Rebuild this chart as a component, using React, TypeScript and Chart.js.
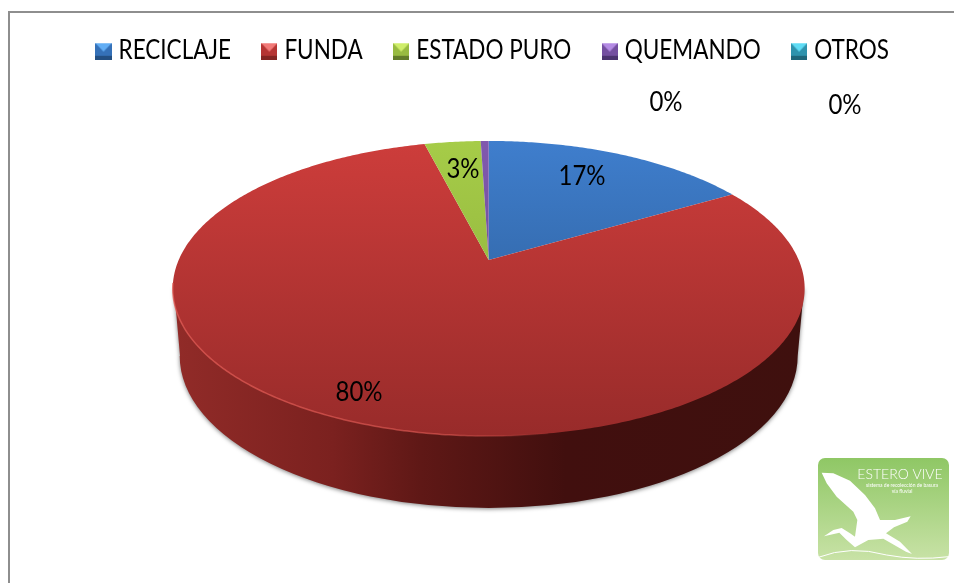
import React, { useEffect, useRef } from "react";
import { Chart, registerables } from "chart.js";

Chart.register(...registerables);

const categories = ["RECICLAJE", "FUNDA", "ESTADO PURO", "QUEMANDO", "OTROS"];
const shares = [16.55, 79.5, 3.46, 0.49, 0];
const baseColors = ["#3571b8", "#b53534", "#98bb41", "#744fa0", "#2f93ad"];
const faceTop = ["#3f7ecd", "#cd3d3b", "#a6cc48", "#8059ae", "#37a7c4"];
const faceBottom = ["#28558a", "#982b2a", "#86a838", "#64458c", "#267a90"];
const iconLight = ["#62aef5", "#f27a78", "#cfee6a", "#b48be4", "#5fdcf5"];
const iconDark = ["#234f82", "#832523", "#627c2a", "#4b336f", "#1f667a"];
const labelAnchors = [[582, 176], [359, 392], [463, 169], [666, 102], [845, 105]];

const FONT = 'Lato, "Liberation Sans", sans-serif';
const W = 954;
const H = 583;

// projective view of the pie's top face
const CX = 488.7;
const SX = 310;
const PK = -0.1932;
const PA = 91.8;
const PB = 260;
const project = (angle: number): [number, number] => {
  const u = Math.cos(angle);
  const v = Math.sin(angle);
  const d = 1 + PK * v;
  return [CX + (SX * u) / d, (PA * v + PB) / d];
};

// legend text is condensed and slightly tall in the reference
const LEG_SX = 0.9;
const LEG_SY = 1.05;
const LEG_DX = 65;
const LEG_DY = -3;

const makeIcon = (i: number) => {
  const c = document.createElement("canvas");
  c.width = 18;
  c.height = 18;
  const x = c.getContext("2d")!;
  x.fillStyle = baseColors[i];
  x.fillRect(0, 2, 18, 16);
  x.fillStyle = iconLight[i];
  x.beginPath();
  x.moveTo(0, 2);
  x.lineTo(18, 2);
  x.lineTo(9, 10);
  x.closePath();
  x.fill();
  x.fillStyle = iconDark[i];
  x.fillRect(0, 14, 18, 4);
  return c;
};

const pie3dPlugin = {
  id: "pie3d",
  beforeDraw(chart: any) {
    const { ctx } = chart;
    ctx.save();
    ctx.fillStyle = "#ffffff";
    ctx.fillRect(0, 0, W, H);
    ctx.fillStyle = "#8e8e8e";
    ctx.fillRect(8, 11, W - 8, 2);
    ctx.fillRect(8, 11, 2, H - 11);
    ctx.restore();
    const legend = chart.legend;
    if (legend && !legend.__condensed) {
      legend.__condensed = true;
      const drawLegend = legend.draw.bind(legend);
      legend.draw = () => {
        ctx.save();
        ctx.translate(LEG_DX, LEG_DY);
        ctx.scale(LEG_SX, LEG_SY);
        drawLegend();
        ctx.restore();
      };
    }
  },
  beforeDatasetDraw(chart: any, args: any) {
    const { ctx } = chart;
    const arcs = chart.getDatasetMeta(args.index).data;
    // wall of the disc
    ctx.save();
    const wall = ctx.createLinearGradient(175, 0, 805, 0);
    wall.addColorStop(0, "#912b28");
    wall.addColorStop(0.25, "#7b211f");
    wall.addColorStop(0.39, "#5f1816");
    wall.addColorStop(0.62, "#410f0e");
    wall.addColorStop(1, "#3f100e");
    ctx.fillStyle = wall;
    ctx.shadowColor = "rgba(0,0,0,0.5)";
    ctx.shadowBlur = 4;
    ctx.shadowOffsetY = 1;
    ctx.beginPath();
    ctx.moveTo(174, 288);
    ctx.lineTo(180, 356);
    ctx.ellipse(CX, 356, 309, 152, 0, Math.PI, 0, true);
    ctx.lineTo(804, 288);
    ctx.closePath();
    ctx.fill();
    ctx.restore();
    // top face
    arcs.forEach((arc: any, i: number) => {
      const { startAngle, endAngle } = arc.getProps(["startAngle", "endAngle"], true);
      if (endAngle - startAngle <= 0) return;
      const g = ctx.createLinearGradient(0, 141, 0, 436);
      g.addColorStop(0, faceTop[i]);
      g.addColorStop(1, faceBottom[i]);
      ctx.fillStyle = g;
      ctx.beginPath();
      ctx.moveTo(CX, PB);
      const steps = Math.max(4, Math.ceil((endAngle - startAngle) * 90));
      for (let s = 0; s <= steps; s++) {
        const [x, y] = project(startAngle + ((endAngle - startAngle) * s) / steps);
        ctx.lineTo(x, y);
      }
      ctx.closePath();
      ctx.fill();
    });
    // lit rim on the lower left
    ctx.save();
    const rim = ctx.createLinearGradient(175, 0, 560, 0);
    rim.addColorStop(0, "rgba(226,92,86,0.75)");
    rim.addColorStop(0.7, "rgba(226,92,86,0.6)");
    rim.addColorStop(1, "rgba(226,92,86,0)");
    ctx.strokeStyle = rim;
    ctx.lineWidth = 1.5;
    ctx.beginPath();
    for (let a = Math.PI * 0.95; a > Math.PI * 0.45; a -= 0.01) {
      const [x, y] = project(a);
      if (a === Math.PI * 0.95) ctx.moveTo(x, y);
      else ctx.lineTo(x, y);
    }
    ctx.stroke();
    ctx.restore();
    return false;
  },
  afterDraw(chart: any) {
    const { ctx } = chart;
    // percentage labels
    ctx.save();
    ctx.fillStyle = "#000000";
    ctx.font = `25px ${FONT}`;
    ctx.textAlign = "center";
    ctx.textBaseline = "middle";
    shares.forEach((s, i) => {
      ctx.save();
      ctx.translate(labelAnchors[i][0], labelAnchors[i][1]);
      ctx.scale(0.96, 1.06);
      ctx.fillText(`${Math.round(s)}%`, 0, 0);
      ctx.restore();
    });
    ctx.restore();
    drawLogo(ctx);
  },
};

const drawLogo = (ctx: CanvasRenderingContext2D) => {
  const px = (x: number) => 800 + x / 3;
  const py = (y: number) => 440 + y / 3;
  ctx.save();
  const g = ctx.createLinearGradient(0, 458, 0, 560);
  g.addColorStop(0, "#8fc765");
  g.addColorStop(1, "#c8e2a6");
  ctx.fillStyle = g;
  ctx.beginPath();
  ctx.roundRect(818, 458, 131, 102, 7);
  ctx.fill();
  ctx.fillStyle = "#ffffff";
  const bird = [
    [65, 98], [100, 100], [150, 122], [195, 165], [225, 205], [240, 240],
    [285, 240], [332, 229], [322, 245], [282, 262], [258, 280], [300, 305],
    [336, 342], [318, 335], [250, 296], [205, 300], [165, 322], [140, 300],
    [118, 278], [72, 289], [100, 270], [125, 264], [150, 280], [165, 290],
    [172, 240], [160, 215], [110, 170], [80, 130],
  ];
  ctx.beginPath();
  bird.forEach(([x, y], i) => (i ? ctx.lineTo(px(x), py(y)) : ctx.moveTo(px(x), py(y))));
  ctx.closePath();
  ctx.fill();
  ctx.strokeStyle = "#ffffff";
  ctx.lineWidth = 1;
  ctx.beginPath();
  ctx.moveTo(px(55), py(352));
  ctx.quadraticCurveTo(px(150), py(315), px(260), py(345));
  ctx.quadraticCurveTo(px(350), py(362), px(446), py(350));
  ctx.stroke();
  ctx.font = "300 14px Lato, sans-serif";
  ctx.textAlign = "center";
  ctx.textBaseline = "middle";
  ctx.fillText("ESTERO VIVE", 900, 474);
  ctx.font = "5px Lato, sans-serif";
  ctx.fillText("sistema de recolección de basura", 902, 485);
  ctx.fillText("vía fluvial", 902, 491);
  ctx.restore();
};

export default function App() {
  const ref = useRef<HTMLCanvasElement>(null);
  useEffect(() => {
    const icons = categories.map((_, i) => makeIcon(i));
    const chart = new Chart(ref.current!, {
      type: "pie",
      data: {
        labels: categories,
        datasets: [{ data: shares, backgroundColor: baseColors, borderWidth: 0 }],
      },
      options: {
        responsive: false,
        animation: false,
        events: [],
        layout: { padding: { top: 0, left: 0, right: 0, bottom: 10 } },
        plugins: {
          tooltip: { enabled: false },
          legend: {
            position: "top",
            labels: {
              usePointStyle: true,
              boxWidth: 8.4,
              boxHeight: 5,
              pointStyleWidth: 8.4,
              padding: 38.5,
              color: "#000000",
              font: { family: FONT, size: 25 },
              generateLabels: (c: any) =>
                (Chart as any).overrides.doughnut.plugins.legend.labels
                  .generateLabels(c)
                  .map((it: any, i: number) => ({ ...it, pointStyle: icons[i], lineWidth: 0 })),
            },
          },
        },
      },
      plugins: [pie3dPlugin],
    } as any);
    return () => chart.destroy();
  }, []);
  return (
    <div style={{ position: "absolute", left: 0, top: 0, width: W, height: H }}>
      <canvas ref={ref} width={W} height={H} style={{ display: "block" }} />
    </div>
  );
}
